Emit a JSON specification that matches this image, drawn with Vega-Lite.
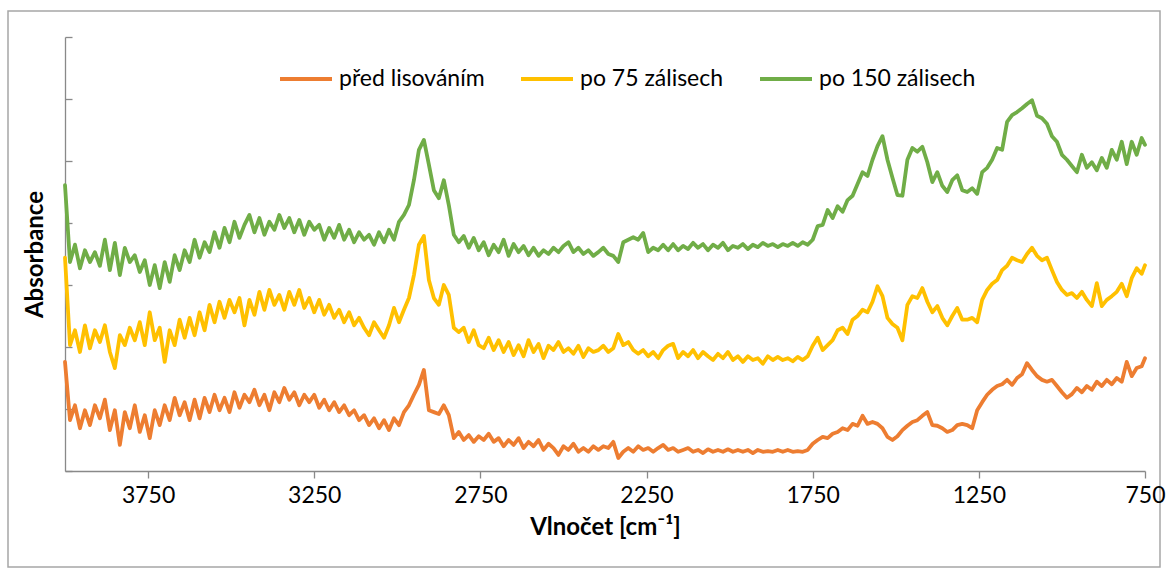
{
"$schema": "https://vega.github.io/schema/vega-lite/v6.json",
"width": 1152, "height": 556,
"autosize": "none",
"padding": {"left": 8, "top": 11, "right": 7, "bottom": 7},
"background": "white",
"config": {"view": {"stroke": "#a6a6a6", "strokeWidth": 1.5}, "font": "Lato"},
"data": {"values": [
{"w":4000,"p":0.176,"y":0.344,"g":0.461},{"w":3985,"p":0.082,"y":0.203,"g":0.337},{"w":3970,"p":0.106,"y":0.227,"g":0.365},{"w":3955,"p":0.069,"y":0.192,"g":0.327},{"w":3940,"p":0.098,"y":0.235,"g":0.356},{"w":3925,"p":0.074,"y":0.198,"g":0.337},{"w":3910,"p":0.106,"y":0.227,"g":0.353},{"w":3895,"p":0.085,"y":0.208,"g":0.331},{"w":3880,"p":0.115,"y":0.235,"g":0.373},{"w":3865,"p":0.066,"y":0.192,"g":0.324},
{"w":3850,"p":0.098,"y":0.166,"g":0.368},{"w":3835,"p":0.042,"y":0.219,"g":0.316},{"w":3820,"p":0.095,"y":0.203,"g":0.360},{"w":3805,"p":0.069,"y":0.231,"g":0.337},{"w":3790,"p":0.106,"y":0.211,"g":0.348},{"w":3775,"p":0.063,"y":0.240,"g":0.321},{"w":3760,"p":0.090,"y":0.203,"g":0.340},{"w":3745,"p":0.053,"y":0.256,"g":0.300},{"w":3730,"p":0.098,"y":0.211,"g":0.332},{"w":3715,"p":0.074,"y":0.231,"g":0.295},
{"w":3700,"p":0.106,"y":0.176,"g":0.337},{"w":3685,"p":0.082,"y":0.227,"g":0.305},{"w":3670,"p":0.118,"y":0.203,"g":0.348},{"w":3655,"p":0.090,"y":0.244,"g":0.324},{"w":3640,"p":0.111,"y":0.215,"g":0.356},{"w":3625,"p":0.082,"y":0.247,"g":0.337},{"w":3610,"p":0.115,"y":0.219,"g":0.373},{"w":3595,"p":0.085,"y":0.256,"g":0.344},{"w":3580,"p":0.118,"y":0.227,"g":0.369},{"w":3565,"p":0.095,"y":0.268,"g":0.353},
{"w":3550,"p":0.123,"y":0.240,"g":0.385},{"w":3535,"p":0.098,"y":0.273,"g":0.360},{"w":3520,"p":0.118,"y":0.247,"g":0.392},{"w":3505,"p":0.095,"y":0.276,"g":0.369},{"w":3490,"p":0.127,"y":0.256,"g":0.402},{"w":3475,"p":0.102,"y":0.279,"g":0.376},{"w":3460,"p":0.123,"y":0.235,"g":0.397},{"w":3445,"p":0.111,"y":0.276,"g":0.413},{"w":3430,"p":0.131,"y":0.252,"g":0.385},{"w":3415,"p":0.106,"y":0.289,"g":0.408},
{"w":3400,"p":0.123,"y":0.260,"g":0.381},{"w":3385,"p":0.098,"y":0.292,"g":0.402},{"w":3370,"p":0.127,"y":0.268,"g":0.389},{"w":3355,"p":0.111,"y":0.284,"g":0.413},{"w":3340,"p":0.134,"y":0.260,"g":0.392},{"w":3325,"p":0.115,"y":0.289,"g":0.408},{"w":3310,"p":0.127,"y":0.268,"g":0.385},{"w":3295,"p":0.106,"y":0.292,"g":0.405},{"w":3280,"p":0.123,"y":0.263,"g":0.381},{"w":3265,"p":0.111,"y":0.279,"g":0.402},
{"w":3250,"p":0.123,"y":0.256,"g":0.389},{"w":3235,"p":0.102,"y":0.276,"g":0.397},{"w":3220,"p":0.115,"y":0.252,"g":0.373},{"w":3205,"p":0.098,"y":0.268,"g":0.392},{"w":3190,"p":0.111,"y":0.247,"g":0.376},{"w":3175,"p":0.095,"y":0.260,"g":0.397},{"w":3160,"p":0.106,"y":0.240,"g":0.373},{"w":3145,"p":0.090,"y":0.256,"g":0.389},{"w":3130,"p":0.098,"y":0.235,"g":0.369},{"w":3115,"p":0.082,"y":0.247,"g":0.385},
{"w":3100,"p":0.090,"y":0.231,"g":0.373},{"w":3085,"p":0.074,"y":0.219,"g":0.381},{"w":3070,"p":0.085,"y":0.240,"g":0.365},{"w":3055,"p":0.069,"y":0.227,"g":0.385},{"w":3040,"p":0.082,"y":0.215,"g":0.369},{"w":3025,"p":0.066,"y":0.235,"g":0.389},{"w":3010,"p":0.085,"y":0.263,"g":0.373},{"w":2995,"p":0.074,"y":0.240,"g":0.402},{"w":2980,"p":0.095,"y":0.260,"g":0.413},{"w":2965,"p":0.106,"y":0.279,"g":0.429},
{"w":2950,"p":0.123,"y":0.316,"g":0.469},{"w":2935,"p":0.139,"y":0.365,"g":0.518},{"w":2920,"p":0.163,"y":0.379,"g":0.534},{"w":2905,"p":0.098,"y":0.308,"g":0.494},{"w":2890,"p":0.095,"y":0.279,"g":0.453},{"w":2875,"p":0.092,"y":0.268,"g":0.440},{"w":2860,"p":0.106,"y":0.300,"g":0.469},{"w":2845,"p":0.090,"y":0.284,"g":0.429},{"w":2830,"p":0.053,"y":0.231,"g":0.381},{"w":2815,"p":0.063,"y":0.224,"g":0.369},
{"w":2800,"p":0.050,"y":0.231,"g":0.379},{"w":2785,"p":0.058,"y":0.208,"g":0.360},{"w":2770,"p":0.047,"y":0.227,"g":0.376},{"w":2755,"p":0.056,"y":0.203,"g":0.356},{"w":2740,"p":0.050,"y":0.198,"g":0.369},{"w":2725,"p":0.060,"y":0.215,"g":0.348},{"w":2710,"p":0.047,"y":0.195,"g":0.365},{"w":2695,"p":0.053,"y":0.211,"g":0.353},{"w":2680,"p":0.040,"y":0.192,"g":0.373},{"w":2665,"p":0.050,"y":0.208,"g":0.347},
{"w":2650,"p":0.042,"y":0.187,"g":0.366},{"w":2635,"p":0.053,"y":0.203,"g":0.353},{"w":2620,"p":0.037,"y":0.185,"g":0.363},{"w":2605,"p":0.047,"y":0.211,"g":0.348},{"w":2590,"p":0.040,"y":0.192,"g":0.360},{"w":2575,"p":0.050,"y":0.205,"g":0.347},{"w":2560,"p":0.034,"y":0.182,"g":0.356},{"w":2545,"p":0.044,"y":0.202,"g":0.350},{"w":2530,"p":0.037,"y":0.195,"g":0.360},{"w":2515,"p":0.026,"y":0.208,"g":0.353},
{"w":2500,"p":0.040,"y":0.192,"g":0.363},{"w":2485,"p":0.034,"y":0.198,"g":0.369},{"w":2470,"p":0.044,"y":0.189,"g":0.353},{"w":2455,"p":0.031,"y":0.202,"g":0.360},{"w":2440,"p":0.037,"y":0.184,"g":0.350},{"w":2425,"p":0.031,"y":0.198,"g":0.356},{"w":2410,"p":0.040,"y":0.192,"g":0.347},{"w":2395,"p":0.034,"y":0.195,"g":0.353},{"w":2380,"p":0.040,"y":0.202,"g":0.360},{"w":2365,"p":0.037,"y":0.192,"g":0.350},
{"w":2350,"p":0.047,"y":0.198,"g":0.347},{"w":2335,"p":0.021,"y":0.221,"g":0.337},{"w":2320,"p":0.031,"y":0.203,"g":0.369},{"w":2305,"p":0.037,"y":0.208,"g":0.373},{"w":2290,"p":0.031,"y":0.195,"g":0.377},{"w":2275,"p":0.040,"y":0.189,"g":0.373},{"w":2260,"p":0.034,"y":0.195,"g":0.384},{"w":2245,"p":0.037,"y":0.185,"g":0.353},{"w":2230,"p":0.031,"y":0.192,"g":0.360},{"w":2215,"p":0.037,"y":0.182,"g":0.356},
{"w":2200,"p":0.042,"y":0.195,"g":0.365},{"w":2185,"p":0.034,"y":0.202,"g":0.356},{"w":2170,"p":0.037,"y":0.205,"g":0.366},{"w":2155,"p":0.031,"y":0.182,"g":0.356},{"w":2140,"p":0.034,"y":0.192,"g":0.363},{"w":2125,"p":0.037,"y":0.185,"g":0.358},{"w":2110,"p":0.031,"y":0.195,"g":0.368},{"w":2095,"p":0.034,"y":0.182,"g":0.360},{"w":2080,"p":0.029,"y":0.192,"g":0.366},{"w":2065,"p":0.035,"y":0.185,"g":0.356},
{"w":2050,"p":0.031,"y":0.179,"g":0.365},{"w":2035,"p":0.034,"y":0.189,"g":0.360},{"w":2020,"p":0.031,"y":0.182,"g":0.368},{"w":2005,"p":0.035,"y":0.192,"g":0.356},{"w":1990,"p":0.031,"y":0.179,"g":0.363},{"w":1975,"p":0.034,"y":0.185,"g":0.360},{"w":1960,"p":0.031,"y":0.176,"g":0.366},{"w":1945,"p":0.034,"y":0.185,"g":0.358},{"w":1930,"p":0.029,"y":0.179,"g":0.365},{"w":1915,"p":0.034,"y":0.182,"g":0.361},
{"w":1900,"p":0.031,"y":0.173,"g":0.368},{"w":1885,"p":0.032,"y":0.185,"g":0.363},{"w":1870,"p":0.031,"y":0.179,"g":0.366},{"w":1855,"p":0.034,"y":0.184,"g":0.361},{"w":1840,"p":0.031,"y":0.179,"g":0.366},{"w":1825,"p":0.034,"y":0.182,"g":0.363},{"w":1810,"p":0.031,"y":0.177,"g":0.368},{"w":1795,"p":0.032,"y":0.184,"g":0.363},{"w":1780,"p":0.031,"y":0.179,"g":0.369},{"w":1765,"p":0.034,"y":0.185,"g":0.365},
{"w":1750,"p":0.044,"y":0.202,"g":0.373},{"w":1735,"p":0.050,"y":0.215,"g":0.395},{"w":1720,"p":0.055,"y":0.195,"g":0.397},{"w":1705,"p":0.053,"y":0.203,"g":0.421},{"w":1690,"p":0.060,"y":0.211,"g":0.408},{"w":1675,"p":0.063,"y":0.227,"g":0.427},{"w":1660,"p":0.069,"y":0.231,"g":0.418},{"w":1645,"p":0.066,"y":0.221,"g":0.437},{"w":1630,"p":0.076,"y":0.244,"g":0.444},{"w":1615,"p":0.073,"y":0.250,"g":0.463},
{"w":1600,"p":0.089,"y":0.260,"g":0.482},{"w":1585,"p":0.076,"y":0.256,"g":0.476},{"w":1570,"p":0.079,"y":0.273,"g":0.502},{"w":1555,"p":0.076,"y":0.298,"g":0.524},{"w":1540,"p":0.069,"y":0.282,"g":0.540},{"w":1525,"p":0.055,"y":0.247,"g":0.502},{"w":1510,"p":0.050,"y":0.237,"g":0.473},{"w":1495,"p":0.056,"y":0.231,"g":0.445},{"w":1480,"p":0.066,"y":0.211,"g":0.444},{"w":1465,"p":0.073,"y":0.268,"g":0.502},
{"w":1450,"p":0.079,"y":0.282,"g":0.521},{"w":1435,"p":0.082,"y":0.279,"g":0.515},{"w":1420,"p":0.089,"y":0.295,"g":0.523},{"w":1405,"p":0.095,"y":0.273,"g":0.498},{"w":1390,"p":0.074,"y":0.256,"g":0.466},{"w":1375,"p":0.073,"y":0.266,"g":0.482},{"w":1360,"p":0.069,"y":0.247,"g":0.460},{"w":1345,"p":0.063,"y":0.235,"g":0.450},{"w":1330,"p":0.066,"y":0.250,"g":0.469},{"w":1315,"p":0.074,"y":0.263,"g":0.477},
{"w":1300,"p":0.076,"y":0.244,"g":0.453},{"w":1285,"p":0.074,"y":0.244,"g":0.450},{"w":1270,"p":0.069,"y":0.247,"g":0.456},{"w":1255,"p":0.098,"y":0.240,"g":0.447},{"w":1240,"p":0.111,"y":0.276,"g":0.482},{"w":1225,"p":0.123,"y":0.292,"g":0.489},{"w":1210,"p":0.131,"y":0.302,"g":0.502},{"w":1195,"p":0.137,"y":0.308,"g":0.521},{"w":1180,"p":0.140,"y":0.324,"g":0.518},{"w":1165,"p":0.147,"y":0.331,"g":0.563},
{"w":1150,"p":0.139,"y":0.344,"g":0.574},{"w":1135,"p":0.150,"y":0.340,"g":0.579},{"w":1120,"p":0.156,"y":0.337,"g":0.585},{"w":1105,"p":0.174,"y":0.350,"g":0.592},{"w":1090,"p":0.163,"y":0.360,"g":0.598},{"w":1075,"p":0.153,"y":0.347,"g":0.573},{"w":1060,"p":0.147,"y":0.340,"g":0.569},{"w":1045,"p":0.144,"y":0.344,"g":0.560},{"w":1030,"p":0.147,"y":0.324,"g":0.540},{"w":1015,"p":0.137,"y":0.305,"g":0.531},
{"w":1000,"p":0.127,"y":0.292,"g":0.510},{"w":985,"p":0.118,"y":0.284,"g":0.502},{"w":970,"p":0.124,"y":0.287,"g":0.492},{"w":955,"p":0.134,"y":0.279,"g":0.482},{"w":940,"p":0.127,"y":0.289,"g":0.510},{"w":925,"p":0.137,"y":0.276,"g":0.489},{"w":910,"p":0.131,"y":0.266,"g":0.498},{"w":895,"p":0.144,"y":0.303,"g":0.485},{"w":880,"p":0.137,"y":0.266,"g":0.505},{"w":865,"p":0.147,"y":0.276,"g":0.489},
{"w":850,"p":0.140,"y":0.282,"g":0.518},{"w":835,"p":0.150,"y":0.289,"g":0.502},{"w":820,"p":0.144,"y":0.302,"g":0.531},{"w":805,"p":0.176,"y":0.282,"g":0.495},{"w":790,"p":0.153,"y":0.311,"g":0.531},{"w":775,"p":0.166,"y":0.327,"g":0.510},{"w":760,"p":0.169,"y":0.318,"g":0.537},{"w":750,"p":0.182,"y":0.332,"g":0.526}
]},
"transform": [{"fold": ["p", "y", "g"], "as": ["s", "a"]}],
"mark": {"type": "line", "strokeWidth": 3.8, "strokeJoin": "round", "strokeCap": "round"},
"encoding": {
  "x": {"field": "w", "type": "quantitative",
    "scale": {"domain": [750, 4000], "range": [1137, 57], "zero": false, "nice": false},
    "axis": {"title": "Vlnočet [cm⁻¹]", "values": [3750, 3250, 2750, 2250, 1750, 1250, 750], "format": "d", "offset": -96, "grid": false,
      "domainColor": "#898989", "domainWidth": 1.3, "tickColor": "#898989", "tickWidth": 1.3, "tickSize": 7,
      "labelFontSize": 23, "labelColor": "#000000", "labelPadding": 6, "labelFlush": false, "labelOverlap": false,
      "titleFontSize": 24, "titleFontWeight": "bold", "titleColor": "#000000", "titlePadding": 8}},
  "y": {"field": "a", "type": "quantitative",
    "scale": {"domain": [0, 0.7], "range": [460, 26], "nice": false, "zero": true},
    "axis": {"title": "Absorbance", "values": [0, 0.1, 0.2, 0.3, 0.4, 0.5, 0.6, 0.7], "labels": false, "offset": -57, "grid": false,
      "domainColor": "#898989", "domainWidth": 1.3, "tickColor": "#898989", "tickWidth": 1.3, "tickSize": -7,
      "titleFontSize": 24, "titleFontWeight": "bold", "titleColor": "#000000", "titlePadding": 17}},
  "color": {"field": "s", "type": "nominal",
    "scale": {"domain": ["p", "y", "g"], "range": ["#ED7D31", "#FFC000", "#70AD47"]},
    "legend": {"title": null, "orient": "none", "legendX": 270, "legendY": 40, "direction": "horizontal", "padding": 0,
      "symbolType": "stroke", "symbolSize": 2704, "symbolStrokeWidth": 4, "labelFontSize": 23, "labelColor": "#000000",
      "columnPadding": 28, "labelOffset": 5, "labelLimit": 400,
      "labelExpr": "datum.value === 'p' ? 'před lisováním' : datum.value === 'y' ? 'po 75 zálisech' : 'po 150 zálisech'"}}
}
}
